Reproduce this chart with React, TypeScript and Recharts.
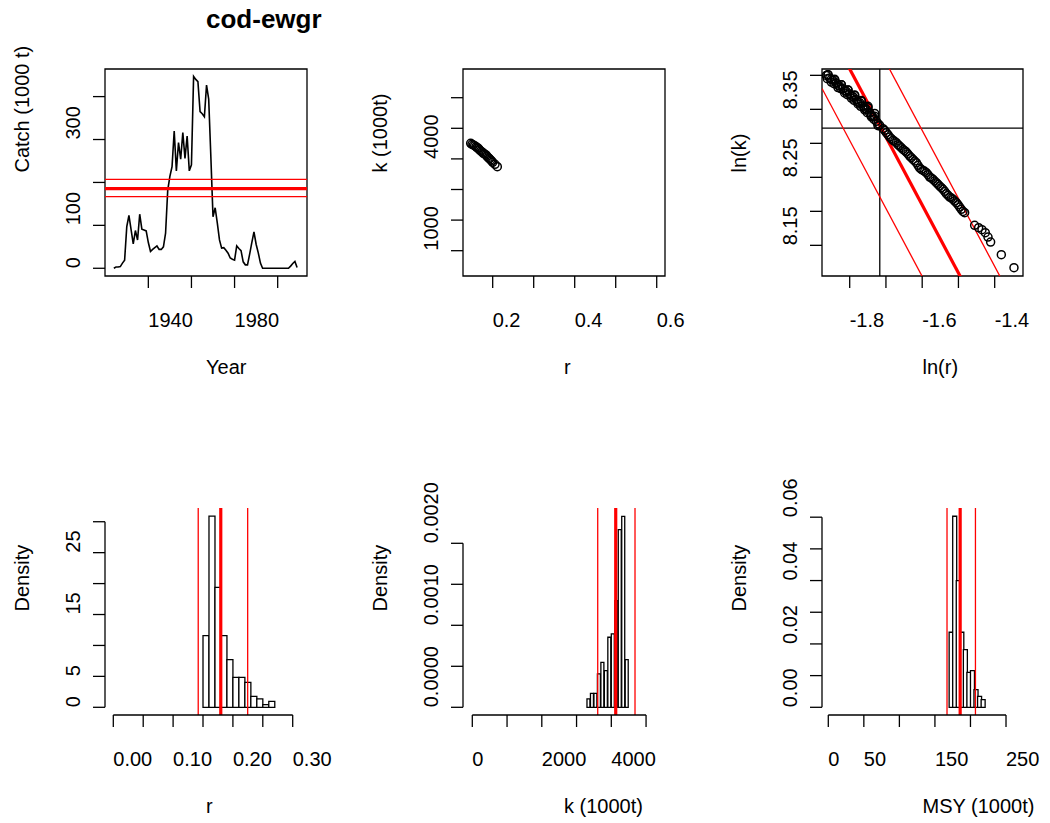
import React from "react";
import { ComposedChart, Line, Scatter, Bar, XAxis, YAxis, ReferenceLine, ReferenceArea } from "recharts";

const PAGE_W = 1050;
const PAGE_H = 823;
const FONT = '"Liberation Sans", Arial, Helvetica, sans-serif';

// catch series (1000 t)
const catchYears = [
  1924, 1925, 1926, 1927, 1928, 1929, 1930, 1931, 1932, 1933, 1934, 1935, 1936, 1937, 1938, 1939,
  1940, 1941, 1942, 1943, 1944, 1945, 1946, 1947, 1948, 1949, 1950, 1951, 1952, 1953, 1954, 1955,
  1956, 1957, 1958, 1959, 1960, 1961, 1962, 1963, 1964, 1965, 1966, 1967, 1968, 1969, 1970, 1971,
  1972, 1973, 1974, 1975, 1976, 1977, 1978, 1979, 1980, 1981, 1982, 1983, 1984, 1985, 1986, 1987,
  1988, 1989, 1990, 1991, 1992, 1993, 1994, 1995, 1996, 1997, 1998, 1999, 2000, 2001, 2002, 2003,
  2004, 2005, 2006, 2007, 2008, 2009,
];
const catchValues = [
  0, 3, 3, 4, 12, 19, 97, 123, 90, 57, 88, 66, 126, 91, 89, 87,
  60, 39, 44, 48, 52, 44, 44, 50, 82, 182, 214, 237, 320, 227, 293, 254,
  316, 256, 308, 227, 241, 447, 440, 435, 365, 360, 353, 427, 394, 260, 120, 141,
  105, 66, 47, 48, 42, 35, 24, 21, 19, 52, 46, 41, 15, 8, 8, 33,
  60, 85, 56, 36, 12, 0, 0, 0, 0, 0, 0, 0, 0, 0, 0, 0,
  0, 0, 5, 11, 16, 2,
];

// MSY estimate and range (1000 t)
const msyMean = 185.5;
const msyLow = 167;
const msyHigh = 207;

// r-k pairs shown in the r / k panel
const rPairs = [
  0.1463, 0.1495, 0.1528, 0.156, 0.1593, 0.1617, 0.165, 0.1674, 0.1707, 0.1739, 0.1772,
  0.1804, 0.1837, 0.1861, 0.1894, 0.1918, 0.1951, 0.1975, 0.2, 0.2056, 0.2113,
];
const kPairs = [
  4509, 4476, 4454, 4432, 4400, 4367, 4345, 4302, 4258, 4226, 4182,
  4160, 4128, 4084, 4040, 4008, 3964, 3931, 3888, 3822, 3746,
];

// ln(r) / ln(k) of the viable pairs
const lnR = [
  -1.8645, -1.8553, -1.8461, -1.8369, -1.8277, -1.8185, -1.8093, -1.8001, -1.7909, -1.7817,
  -1.7725, -1.7633, -1.7541, -1.7449, -1.7357, -1.7265, -1.7173, -1.7081, -1.6989, -1.6897,
  -1.6806, -1.6714, -1.6622, -1.653, -1.6438, -1.6346, -1.6254, -1.6162, -1.607, -1.5978,
  -1.5886, -1.5794, -1.5702, -1.561, -1.5518, -1.5426, -1.5334, -1.5242, -1.515, -1.5058,
  -1.4966, -1.4875, -1.4829, -1.4553, -1.4443, -1.4351, -1.4259, -1.4185, -1.4112, -1.3817,
  -1.3468,
  -1.8599, -1.8415, -1.8231, -1.8047, -1.7863, -1.7679, -1.7495, -1.7311,
  -1.8507, -1.8323, -1.8139, -1.7955, -1.7771, -1.7587, -1.7403, -1.7219,
  -1.8599, -1.8507, -1.8415, -1.8323, -1.8231, -1.8139, -1.8047, -1.7955, -1.7863, -1.7771,
  -1.7679, -1.7587, -1.7495, -1.7403, -1.7311, -1.7219, -1.8617, -1.8433, -1.8249, -1.8065,
  -1.7881, -1.7698, -1.7514, -1.733,
  -1.7036, -1.6944, -1.6852, -1.676, -1.6668, -1.6576, -1.6484, -1.6392, -1.63, -1.6208,
  -1.6116, -1.6024, -1.5932, -1.584, -1.5748, -1.5656, -1.5564, -1.5472, -1.538, -1.5288,
  -1.5196, -1.5104, -1.5013, -1.4921,
];
const lnK = [
  8.3999, 8.396, 8.3926, 8.3887, 8.3843, 8.3803, 8.3764, 8.3725, 8.3686, 8.3642,
  8.3598, 8.3549, 8.35, 8.3451, 8.3387, 8.3323, 8.3264, 8.3215, 8.3156, 8.3093,
  8.3044, 8.3009, 8.296, 8.2911, 8.2872, 8.2813, 8.2764, 8.2715, 8.2637, 8.2602,
  8.2568, 8.2504, 8.247, 8.2421, 8.2372, 8.2323, 8.2259, 8.221, 8.2176, 8.2127,
  8.2063, 8.1999, 8.198, 8.1794, 8.1759, 8.173, 8.1686, 8.1622, 8.1548, 8.1362,
  8.1171,
  8.401, 8.3935, 8.386, 8.3785, 8.371, 8.363, 8.3545, 8.344,
  8.39, 8.382, 8.374, 8.3665, 8.358, 8.349, 8.339, 8.326,
  8.4009, 8.3941, 8.3941, 8.3852, 8.3862, 8.3774, 8.3784, 8.3696, 8.3705, 8.3607,
  8.3617, 8.3514, 8.3524, 8.3411, 8.3397, 8.3289, 8.395, 8.3877, 8.3803, 8.3715,
  8.3632, 8.3544, 8.3451, 8.3352,
  8.3191, 8.3127, 8.3068, 8.3029, 8.298, 8.2936, 8.2892, 8.2843, 8.2789, 8.274,
  8.2676, 8.2617, 8.2588, 8.2539, 8.249, 8.2446, 8.2397, 8.2348, 8.2294, 8.2235,
  8.2196, 8.2151, 8.2098, 8.2029,
];
const lnRMean = -1.717;
const lnKMean = 8.3225;

// histograms: bin starts, bin width, densities
const rBinStart = [0.15, 0.16, 0.17, 0.18, 0.19, 0.2, 0.21, 0.22, 0.23, 0.24, 0.25, 0.26];
const rBinWidth = 0.01;
const rDensity = [11.6, 30.9, 19.4, 11.6, 7.7, 4.85, 4.85, 4.04, 1.78, 1.35, 0.44, 0.97];
const rLines = [0.142, 0.1797, 0.2247];

const kBinStart = [3300, 3400, 3500, 3600, 3700, 3800, 3900, 4000, 4100, 4200, 4300, 4400];
const kBinWidth = 100;
const kDensity = [
  0.000102, 0.000171, 0.000171, 0.000407, 0.000549, 0.000448, 0.000854, 0.000895, 0.001301,
  0.002167, 0.002329, 0.000582,
];
const kLines = [3609, 4127, 4682];

const msyBinStart = [170, 175, 180, 185, 190, 195, 200, 205, 210, 215];
const msyBinWidth = 5;
const msyDensity = [0.02368, 0.0603, 0.04, 0.02368, 0.01822, 0.01105, 0.01159, 0.00559, 0.00347, 0.00243];

// axis ticks and the labels that are printed ("" = tick only)
const yearTicks = [1940, 1960, 1980, 2000];
const yearLabels = ["1940", "", "1980", ""];
const catchTicks = [0, 100, 200, 300, 400];
const catchLabels = ["0", "100", "", "300", ""];
const rTicksTop = [0.2, 0.3, 0.4, 0.5, 0.6];
const rLabelsTop = ["0.2", "", "0.4", "", "0.6"];
const kTicksTop = [1000, 2000, 3000, 4000, 5000, 6000];
const kLabelsTop = ["1000", "", "", "4000", "", ""];
const lnrTicks = [-1.8, -1.7, -1.6, -1.5, -1.4];
const lnrLabels = ["-1.8", "", "-1.6", "", "-1.4"];
const lnkTicks = [8.15, 8.2, 8.25, 8.3, 8.35, 8.4];
const lnkLabels = ["8.15", "", "8.25", "", "8.35", ""];
const rHistTicks = [0, 0.05, 0.1, 0.15, 0.2, 0.25, 0.3];
const rHistLabels = ["0.00", "", "0.10", "", "0.20", "", "0.30"];
const rDensTicks = [0, 5, 10, 15, 20, 25, 30];
const rDensLabels = ["0", "5", "", "15", "", "25", ""];
const kHistTicks = [0, 1000, 2000, 3000, 4000, 5000];
const kHistLabels = ["0", "", "2000", "", "4000", ""];
const kDensTicks = [0, 0.0005, 0.001, 0.0015, 0.002];
const kDensLabels = ["0.0000", "", "0.0010", "", "0.0020"];
const msyHistTicks = [0, 50, 100, 150, 200, 250];
const msyHistLabels = ["0", "50", "", "150", "", "250"];
const msyDensTicks = [0, 0.01, 0.02, 0.03, 0.04, 0.05, 0.06];
const msyDensLabels = ["0.00", "", "0.02", "", "0.04", "", "0.06"];

type AxisSpec = { domain: [number, number]; ticks: number[]; labels: string[] };

const catchData = catchYears.map((x, i) => ({ x, y: catchValues[i] }));
const rkData = rPairs.map((x, i) => ({ x, y: kPairs[i] }));
const lnData = lnR.map((x, i) => ({ x, y: lnK[i] }));
const binsToRows = (starts: number[], w: number, dens: number[]) =>
  starts.map((s, i) => ({ x: s + w / 2, y: dens[i] }));

const makeXTick = (a: AxisSpec) => (props: any) => {
  const i = a.ticks.indexOf(props.payload.value);
  const t = i >= 0 ? a.labels[i] : "";
  if (!t) return <g />;
  return (
    <text x={props.x} y={props.y} textAnchor="start" fontSize={20} fontFamily={FONT} fill="#000">
      {t}
    </text>
  );
};

const makeYTick = (a: AxisSpec) => (props: any) => {
  const i = a.ticks.indexOf(props.payload.value);
  const t = i >= 0 ? a.labels[i] : "";
  if (!t) return <g />;
  return (
    <text
      x={props.x}
      y={props.y}
      transform={`rotate(-90 ${props.x} ${props.y})`}
      textAnchor="start"
      fontSize={20}
      fontFamily={FONT}
      fill="#000"
    >
      {t}
    </text>
  );
};

const Panel = ({
  left,
  top,
  width,
  height,
  x,
  y,
  data,
  children,
}: {
  left: number;
  top: number;
  width: number;
  height: number;
  x: AxisSpec;
  y: AxisSpec;
  data?: any[];
  children: React.ReactNode;
}) => {
  const yW = 30;
  const xH = 30;
  return (
    <div style={{ position: "absolute", left: 0, top: 0 }}>
      <ComposedChart
        width={PAGE_W}
        height={PAGE_H}
        data={data}
        barCategoryGap={0}
        barGap={0}
        margin={{ left: left - yW, top, right: PAGE_W - left - width, bottom: PAGE_H - top - height - xH }}
      >
        <XAxis
          type="number"
          dataKey="x"
          domain={x.domain}
          ticks={x.ticks}
          interval={0}
          allowDataOverflow
          height={xH}
          stroke="#000"
          axisLine={false}
          tickLine={{ stroke: "#000", strokeWidth: 1.3 }}
          tickSize={12}
          tickMargin={39}
          tick={makeXTick(x)}
        />
        <YAxis
          type="number"
          dataKey="y"
          domain={y.domain}
          ticks={y.ticks}
          interval={0}
          allowDataOverflow
          width={yW}
          stroke="#000"
          axisLine={false}
          tickLine={{ stroke: "#000", strokeWidth: 1.3 }}
          tickSize={12}
          tickMargin={13}
          tick={makeYTick(y)}
        />
        {children}
      </ComposedChart>
    </div>
  );
};

const ring = (props: any) => (
  <circle cx={props.cx} cy={props.cy} r={4} fill="none" stroke="#000" strokeWidth={1.5} />
);

const Box = ({ x, y }: { x: AxisSpec; y: AxisSpec }) => (
  <ReferenceArea
    x1={x.domain[0]}
    x2={x.domain[1]}
    y1={y.domain[0]}
    y2={y.domain[1]}
    fill="none"
    fillOpacity={0}
    stroke="#000"
    strokeWidth={1.3}
    ifOverflow="visible"
  />
);

const COLS = [105, 463, 822];
const COL_W = [202, 202, 201];
const ROWS = [69, 508];
const ROW_H = 207;

const p1x: AxisSpec = { domain: [1919.9, 2013.6], ticks: yearTicks, labels: yearLabels };
const p1y: AxisSpec = { domain: [-18, 464.3], ticks: catchTicks, labels: catchLabels };
const p2x: AxisSpec = { domain: [0.1276, 0.6202], ticks: rTicksTop, labels: rLabelsTop };
const p2y: AxisSpec = { domain: [173, 6938], ticks: kTicksTop, labels: kLabelsTop };
const p3x: AxisSpec = { domain: [-1.8764, -1.3219], ticks: lnrTicks, labels: lnrLabels };
const p3y: AxisSpec = { domain: [8.1049, 8.4093], ticks: lnkTicks, labels: lnkLabels };
const p4x: AxisSpec = { domain: [-0.01388, 0.3239], ticks: rHistTicks, labels: rHistLabels };
const p4y: AxisSpec = { domain: [-1.245, 32.22], ticks: rDensTicks, labels: rDensLabels };
const p5x: AxisSpec = { domain: [-267.6, 5545], ticks: kHistTicks, labels: kHistLabels };
const p5y: AxisSpec = { domain: [-0.0000939, 0.0024305], ticks: kDensTicks, labels: kDensLabels };
const p6x: AxisSpec = { domain: [-8.86, 273.9], ticks: msyHistTicks, labels: msyHistLabels };
const p6y: AxisSpec = { domain: [-0.00243, 0.0629], ticks: msyDensTicks, labels: msyDensLabels };

const histAxes = (x: AxisSpec, y: AxisSpec) => [
  <ReferenceLine
    key="xa"
    segment={[
      { x: x.ticks[0], y: y.domain[0] },
      { x: x.ticks[x.ticks.length - 1], y: y.domain[0] },
    ]}
    stroke="#000"
    strokeWidth={1.3}
    ifOverflow="visible"
  />,
  <ReferenceLine
    key="ya"
    segment={[
      { x: x.domain[0], y: y.ticks[0] },
      { x: x.domain[0], y: y.ticks[y.ticks.length - 1] },
    ]}
    stroke="#000"
    strokeWidth={1.3}
    ifOverflow="visible"
  />,
];

const redV = (vals: number[]) =>
  vals.map((v, i) => (
    <ReferenceLine key={"r" + i} x={v} stroke="#ff0000" strokeWidth={i === 1 ? 3.2 : 1.3} ifOverflow="hidden" />
  ));

const msyLines = [msyLow, msyMean, msyHigh];

const titles = [
  { t: "Year", c: 0, r: 0 },
  { t: "r", c: 1, r: 0 },
  { t: "ln(r)", c: 2, r: 0 },
  { t: "r", c: 0, r: 1 },
  { t: "k (1000t)", c: 1, r: 1 },
  { t: "MSY (1000t)", c: 2, r: 1 },
];
const yTitles = [
  { t: "Catch (1000 t)", c: 0, r: 0 },
  { t: "k (1000t)", c: 1, r: 0 },
  { t: "ln(k)", c: 2, r: 0 },
  { t: "Density", c: 0, r: 1 },
  { t: "Density", c: 1, r: 1 },
  { t: "Density", c: 2, r: 1 },
];

export default function App() {
  const lnLine = (m: number, w: number, key: string) => {
    const c = Math.log(4 * m);
    return (
      <ReferenceLine
        key={key}
        segment={[
          { x: p3x.domain[0], y: c - p3x.domain[0] },
          { x: p3x.domain[1], y: c - p3x.domain[1] },
        ]}
        stroke="#ff0000"
        strokeWidth={w}
        ifOverflow="hidden"
      />
    );
  };

  return (
    <div
      style={{
        position: "absolute",
        left: 0,
        top: 0,
        width: PAGE_W,
        height: PAGE_H,
        background: "#fff",
        fontFamily: FONT,
      }}
    >
      <Panel left={COLS[0]} top={ROWS[0]} width={COL_W[0]} height={ROW_H} x={p1x} y={p1y} data={catchData}>
        <Line type="linear" dataKey="y" stroke="#000" strokeWidth={1.6} dot={false} isAnimationActive={false} />
        <ReferenceLine y={msyLow} stroke="#ff0000" strokeWidth={1.3} />
        <ReferenceLine y={msyMean} stroke="#ff0000" strokeWidth={3.2} />
        <ReferenceLine y={msyHigh} stroke="#ff0000" strokeWidth={1.3} />
        <Box x={p1x} y={p1y} />
      </Panel>

      <Panel left={COLS[1]} top={ROWS[0]} width={COL_W[1]} height={ROW_H} x={p2x} y={p2y}>
        <Scatter data={rkData} dataKey="y" shape={ring} isAnimationActive={false} />
        <Box x={p2x} y={p2y} />
      </Panel>

      <Panel left={COLS[2]} top={ROWS[0]} width={COL_W[2]} height={ROW_H} x={p3x} y={p3y}>
        <Scatter data={lnData} dataKey="y" shape={ring} isAnimationActive={false} />
        <ReferenceLine x={lnRMean} stroke="#000" strokeWidth={1.3} />
        <ReferenceLine y={lnKMean} stroke="#000" strokeWidth={1.3} />
        {lnLine(msyMean, 3.2, "m")}
        {lnLine(msyLow, 1.3, "l")}
        {lnLine(msyHigh, 1.3, "h")}
        <Box x={p3x} y={p3y} />
      </Panel>

      <Panel
        left={COLS[0]}
        top={ROWS[1]}
        width={COL_W[0]}
        height={ROW_H}
        x={p4x}
        y={p4y}
        data={binsToRows(rBinStart, rBinWidth, rDensity)}
      >
        <Bar dataKey="y" fill="#fff" stroke="#000" strokeWidth={1.3} isAnimationActive={false} />
        {redV(rLines)}
        {histAxes(p4x, p4y)}
      </Panel>

      <Panel
        left={COLS[1]}
        top={ROWS[1]}
        width={COL_W[1]}
        height={ROW_H}
        x={p5x}
        y={p5y}
        data={binsToRows(kBinStart, kBinWidth, kDensity)}
      >
        <Bar dataKey="y" fill="#fff" stroke="#000" strokeWidth={1.3} isAnimationActive={false} />
        {redV(kLines)}
        {histAxes(p5x, p5y)}
      </Panel>

      <Panel
        left={COLS[2]}
        top={ROWS[1]}
        width={COL_W[2]}
        height={ROW_H}
        x={p6x}
        y={p6y}
        data={binsToRows(msyBinStart, msyBinWidth, msyDensity)}
      >
        <Bar dataKey="y" fill="#fff" stroke="#000" strokeWidth={1.3} isAnimationActive={false} />
        {redV(msyLines)}
        {histAxes(p6x, p6y)}
      </Panel>

      <svg
        width={PAGE_W}
        height={PAGE_H}
        style={{ position: "absolute", left: 0, top: 0, pointerEvents: "none" }}
      >
        <text
          x={COLS[0] + COL_W[0] / 2}
          y={28}
          fontSize={26}
          fontWeight="bold"
          fontFamily={FONT}
          textAnchor="start"
          fill="#000"
        >
          cod-ewgr
        </text>
        {titles.map((d, i) => (
          <text
            key={"xt" + i}
            x={COLS[d.c] + COL_W[d.c] / 2}
            y={ROWS[d.r] + ROW_H + 98}
            fontSize={20}
            fontFamily={FONT}
            textAnchor="start"
            fill="#000"
          >
            {d.t}
          </text>
        ))}
        {yTitles.map((d, i) => {
          const x = COLS[d.c] - 76;
          const y = ROWS[d.r] + ROW_H / 2;
          return (
            <text
              key={"yt" + i}
              x={x}
              y={y}
              transform={`rotate(-90 ${x} ${y})`}
              fontSize={20}
              fontFamily={FONT}
              textAnchor="start"
              fill="#000"
            >
              {d.t}
            </text>
          );
        })}
      </svg>
    </div>
  );
}
